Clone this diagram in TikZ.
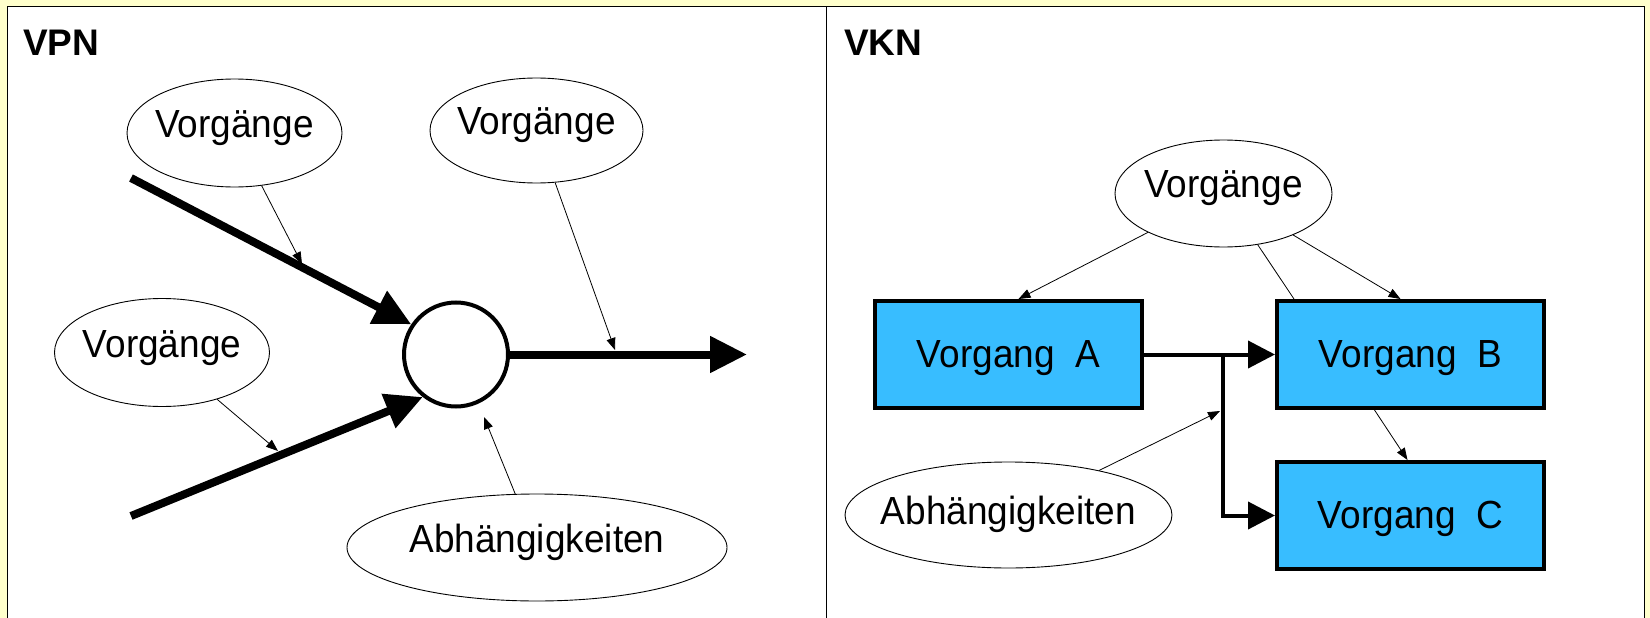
\documentclass[tikz,border=0pt]{standalone}
\usepackage{fontspec}
\usepackage{graphicx}
\setmainfont{Liberation Sans}
\usetikzlibrary{arrows.meta,shapes.geometric,calc}
\definecolor{bgyellow}{HTML}{FFFFCC}
\definecolor{boxblue}{HTML}{38BDFF}
% text centred on the node, baseline shifted by #1 (negative = down)
\newcommand\etxt[2]{\makebox[0pt]{\smash{\raisebox{#1}{\scalebox{1}[1.06]{#2}}}}}
\begin{document}
\begin{tikzpicture}[x=1pt,y=-1pt,
  every node/.style={font=\fontsize{37}{44}\selectfont},
  bubble/.style={ellipse,draw,line width=0.9pt,inner sep=0pt,fill=white},
  title/.style={font=\fontsize{37}{44}\selectfont\bfseries,anchor=base west,inner sep=0pt},
  thickarrow/.style={line width=8pt,-{Triangle[length=37pt,width=35pt]}},
  thinarrow/.style={line width=0.8pt,-{Triangle[length=12pt,width=9pt]}},
  thinline/.style={line width=0.8pt},
  vorg/.style={draw,line width=4pt,fill=boxblue,minimum width=267pt,minimum height=107pt,inner sep=0pt},
  flow/.style={line width=4pt,-{Triangle[length=27pt,width=27pt]}},
  panel/.style={draw,fill=white,line width=1pt}
]
\useasboundingbox (0,0) rectangle (1650,618);
\fill[bgyellow] (0,0) rectangle (1650,618);
\path[panel] (7,7) rectangle (826,630);
\path[panel] (826,7) rectangle (1644,630);

% ---------- VPN ----------
\node[title] (tvpn) at (23,56) {VPN};
\node[bubble,minimum width=215pt,minimum height=108pt] (v1) at (234.5,133) {\etxt{-4pt}{Vorgänge}};
\node[bubble,minimum width=213pt,minimum height=105pt] (v2) at (536.5,130.5) {\etxt{-4.5pt}{Vorgänge}};
\node[bubble,minimum width=215pt,minimum height=108pt] (v3) at (162,352.5) {\etxt{-4.5pt}{Vorgänge}};
\node[bubble,minimum width=380pt,minimum height=107pt] (abh1) at (537,547.5) {\etxt{-4.5pt}{Abhängigkeiten}};
\node[circle,draw,line width=4pt,minimum size=104pt,inner sep=0pt] (k) at (456,354.5) {};

\coordinate (s1) at (131,178);
\coordinate (s2) at (131,516);
\coordinate (e1) at (747,354.5);
\draw[thickarrow] (s1) -- (k.146);
\draw[thickarrow] (s2) -- (k.232);
\draw[thickarrow] (k.east) -- (e1);

\coordinate (c1) at (302,264);
\coordinate (c2) at (615,350);
\coordinate (c3) at (278,451);
\coordinate (c4) at (484,417);
\draw[thinarrow] (v1) -- (c1);
\draw[thinarrow] (v2) -- (c2);
\draw[thinarrow] (v3) -- (c3);
\draw[thinarrow] (abh1) -- (c4);

% ---------- VKN ----------
\node[title] (tvkn) at (844,56) {VKN};
\node[bubble,minimum width=217pt,minimum height=107pt] (v4) at (1223.5,193.5) {\etxt{-3.5pt}{Vorgänge}};
\node[vorg] (A) at (1008.5,354.5) {\etxt{-12.5pt}{Vorgang\ \ A}};
\node[vorg] (B) at (1410.5,354.5) {\etxt{-12.5pt}{Vorgang\ \ B}};
\node[vorg] (C) at (1410.5,515.5) {\etxt{-12.5pt}{Vorgang\ \ C}};
\node[bubble,minimum width=327pt,minimum height=106pt] (abh2) at (1008.5,515) {\etxt{-9pt}{Abhängigkeiten}};

\draw[flow] (A.east) -- (B.west);
\coordinate (jn) at (1223,354.5);
\draw[flow] (jn) |- (C.west);

\draw[thinarrow] (v4) -- ([xshift=10pt]A.north);
\draw[thinarrow] (v4) -- ([xshift=-10pt]B.north);
\draw[thinline] (v4) -- ([xshift=19pt]B.north west);
\draw[thinarrow] ([xshift=-36pt]B.south) -- ([xshift=-3pt]C.north);
\coordinate (ta2) at (1220,411);
\draw[thinarrow] (abh2) -- (ta2);
\end{tikzpicture}
\end{document}
